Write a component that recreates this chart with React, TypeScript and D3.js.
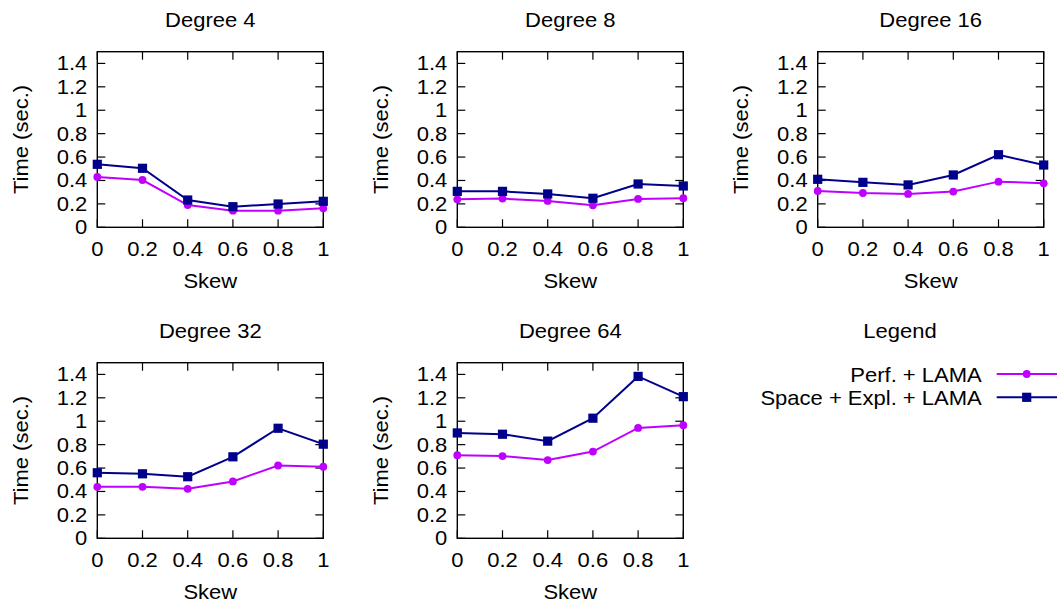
import React from "react";
import * as d3 from "d3";

const skew = [0, 0.2, 0.4, 0.6, 0.8, 1];
const degrees = [4, 8, 16, 32, 64];
const perfLama = [
  [0.43, 0.404, 0.19, 0.142, 0.142, 0.162],
  [0.239, 0.245, 0.225, 0.188, 0.242, 0.248],
  [0.31, 0.293, 0.285, 0.305, 0.39, 0.376],
  [0.44, 0.44, 0.423, 0.486, 0.622, 0.611],
  [0.71, 0.702, 0.668, 0.741, 0.943, 0.966],
];
const spaceExplLama = [
  [0.538, 0.504, 0.233, 0.176, 0.199, 0.222],
  [0.307, 0.307, 0.285, 0.248, 0.37, 0.353],
  [0.41, 0.384, 0.362, 0.447, 0.62, 0.532],
  [0.56, 0.551, 0.526, 0.696, 0.94, 0.804],
  [0.9, 0.889, 0.83, 1.026, 1.383, 1.21],
];
const yTicks = [0, 0.2, 0.4, 0.6, 0.8, 1, 1.2, 1.4];
const xTicks = [0, 0.2, 0.4, 0.6, 0.8, 1];
const seriesNames = ["Perf. + LAMA", "Space + Expl. + LAMA"];

const W = 1057;
const H = 605;
const MAGENTA = "#c000ff";
const BLUE = "#00008b";
const FONT = "'Liberation Sans', Arial, Helvetica, sans-serif";
const FS = 20;
const SX = 1.1;
const colOff = [0, 360, 720.4];
const rowOff = [0, 311];
const PL = 97.3, PR = 323.3, PT = 51.7, PB = 227.3;
const TICK = 8;

function T({ x, y, anchor = "middle", rotate = 0, children }: any) {
  return (
    <text
      transform={`translate(${x},${y})${rotate ? ` rotate(${rotate})` : ""} scale(${SX},1)`}
      textAnchor={anchor}
      fontFamily={FONT}
      fontSize={FS}
      fill="#000"
    >
      {children}
    </text>
  );
}

function Marker({ kind, x, y, color }: any) {
  if (kind === "circle") return <circle cx={x} cy={y} r={3.9} fill={color} />;
  return <rect x={x - 4.6} y={y - 4.6} width={9.2} height={9.2} fill={color} />;
}

function Panel({ idx }: { idx: number }) {
  const ox = colOff[idx % 3];
  const oy = rowOff[Math.floor(idx / 3)];
  const x = d3.scaleLinear().domain([0, 1]).range([ox + PL, ox + PR]);
  const y = d3.scaleLinear().domain([0, 1.5]).range([oy + PB, oy + PT]);
  const line = d3
    .line<number>()
    .x((_, i) => x(skew[i]))
    .y((d) => y(d));
  const series = [
    { vals: perfLama[idx], color: MAGENTA, kind: "circle" },
    { vals: spaceExplLama[idx], color: BLUE, kind: "square" },
  ];
  const cx = (x(0) + x(1)) / 2;
  const cy = (y(0) + y(1.5)) / 2;
  return (
    <g>
      <T x={cx} y={y(1.5) - 25}>{`Degree ${degrees[idx]}`}</T>
      {yTicks.map((t) => (
        <g key={"y" + t}>
          <line x1={x(0)} x2={x(0) + TICK} y1={y(t)} y2={y(t)} stroke="#000" strokeWidth={1.2} />
          <line x1={x(1)} x2={x(1) - TICK} y1={y(t)} y2={y(t)} stroke="#000" strokeWidth={1.2} />
          <T x={x(0) - 10} y={y(t) + 7} anchor="end">{d3.format("~g")(t)}</T>
        </g>
      ))}
      {xTicks.map((t) => (
        <g key={"x" + t}>
          <line x1={x(t)} x2={x(t)} y1={y(0)} y2={y(0) - TICK} stroke="#000" strokeWidth={1.2} />
          <line x1={x(t)} x2={x(t)} y1={y(1.5)} y2={y(1.5) + TICK} stroke="#000" strokeWidth={1.2} />
          <T x={x(t)} y={y(0) + 29}>{d3.format("~g")(t)}</T>
        </g>
      ))}
      <rect
        x={x(0)}
        y={y(1.5)}
        width={x(1) - x(0)}
        height={y(0) - y(1.5)}
        fill="none"
        stroke="#000"
        strokeWidth={1.4}
      />
      <T x={cx} y={y(0) + 61}>Skew</T>
      <T x={ox + 28} y={cy} rotate={-90}>Time (sec.)</T>
      {series.map((s, si) => (
        <g key={si}>
          <path d={line(s.vals) || ""} fill="none" stroke={s.color} strokeWidth={2} />
          {s.vals.map((v, i) => (
            <Marker key={i} kind={s.kind} x={x(skew[i])} y={y(v)} color={s.color} />
          ))}
        </g>
      ))}
    </g>
  );
}

function Legend() {
  const colors = [MAGENTA, BLUE];
  const kinds = ["circle", "square"];
  const rows = [374, 397.3];
  return (
    <g>
      <T x={900} y={338}>Legend</T>
      {seriesNames.map((n, i) => (
        <g key={n}>
          <T x={981.7} y={rows[i] + 7.5} anchor="end">{n}</T>
          <line x1={996.7} x2={1057} y1={rows[i]} y2={rows[i]} stroke={colors[i]} strokeWidth={2} />
          <Marker kind={kinds[i]} x={1026.7} y={rows[i]} color={colors[i]} />
        </g>
      ))}
    </g>
  );
}

export default function App() {
  return (
    <svg
      width={W}
      height={H}
      style={{ position: "absolute", left: 0, top: 0, background: "#fff" }}
    >
      <rect x={0} y={0} width={W} height={H} fill="#fff" />
      {degrees.map((_, i) => (
        <Panel key={i} idx={i} />
      ))}
      <Legend />
    </svg>
  );
}
